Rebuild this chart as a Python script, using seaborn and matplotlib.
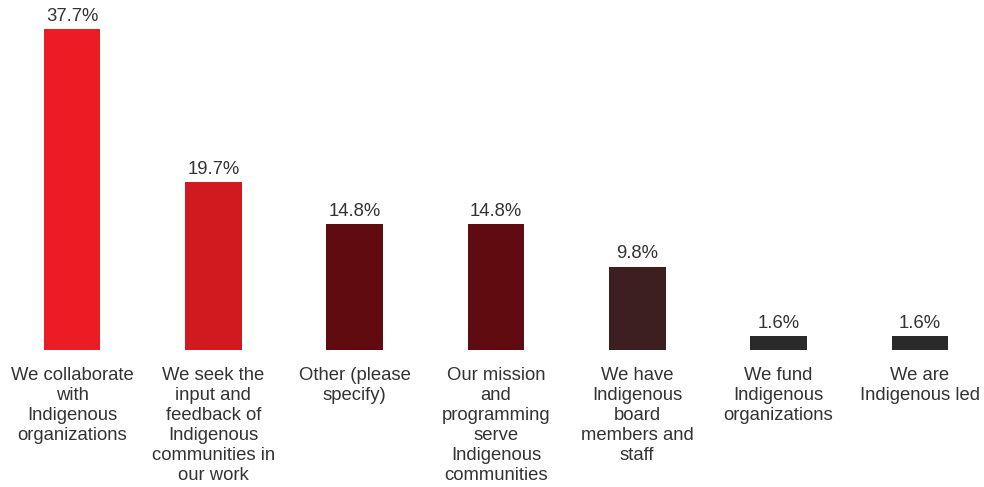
import matplotlib
matplotlib.use("Agg")
import matplotlib.pyplot as plt
import seaborn as sns
import pandas as pd

categories = [
    "We collaborate\nwith\nIndigenous\norganizations",
    "We seek the\ninput and\nfeedback of\nIndigenous\ncommunities in\nour work",
    "Other (please\nspecify)",
    "Our mission\nand\nprogramming\nserve\nIndigenous\ncommunities",
    "We have\nIndigenous\nboard\nmembers and\nstaff",
    "We fund\nIndigenous\norganizations",
    "We are\nIndigenous led",
]
values = [37.7, 19.7, 14.8, 14.8, 9.8, 1.6, 1.6]
value_labels = ["37.7%", "19.7%", "14.8%", "14.8%", "9.8%", "1.6%", "1.6%"]
bar_colors = ["#EC1C24", "#D01A20", "#600B0F", "#600B0F", "#3E1F20", "#2A2A2A", "#2A2A2A"]

df = pd.DataFrame({"category": categories, "value": values})

sns.set_style("white")
plt.rcParams["font.family"] = ["Liberation Sans", "DejaVu Sans"]

fig = plt.figure(figsize=(9.84, 4.87), dpi=100)
ax = fig.add_axes([0, 137 / 487, 1, 350 / 487])

sns.barplot(data=df, x="category", y="value", hue="category",
            palette=bar_colors, legend=False, width=0.40, ax=ax,
            saturation=1, edgecolor="none")

ax.set_xlim(-0.51, 6.454)
ax.set_ylim(0, 41.1)

for i, (v, lab) in enumerate(zip(values, value_labels)):
    ax.annotate(lab, (i, v), xytext=(0, 3), textcoords="offset points",
                ha="center", va="bottom", fontsize=13.3, color="#333333")

ax.set_xlabel("")
ax.set_ylabel("")
ax.set_yticks([])
ax.tick_params(axis="x", length=0, pad=12)
for t in ax.get_xticklabels():
    t.set_fontsize(13.3)
    t.set_color("#333333")
    t.set_linespacing(1.24)
    t.set_va("top")
for s in ax.spines.values():
    s.set_visible(False)

fig.savefig("out.png", dpi=100)
